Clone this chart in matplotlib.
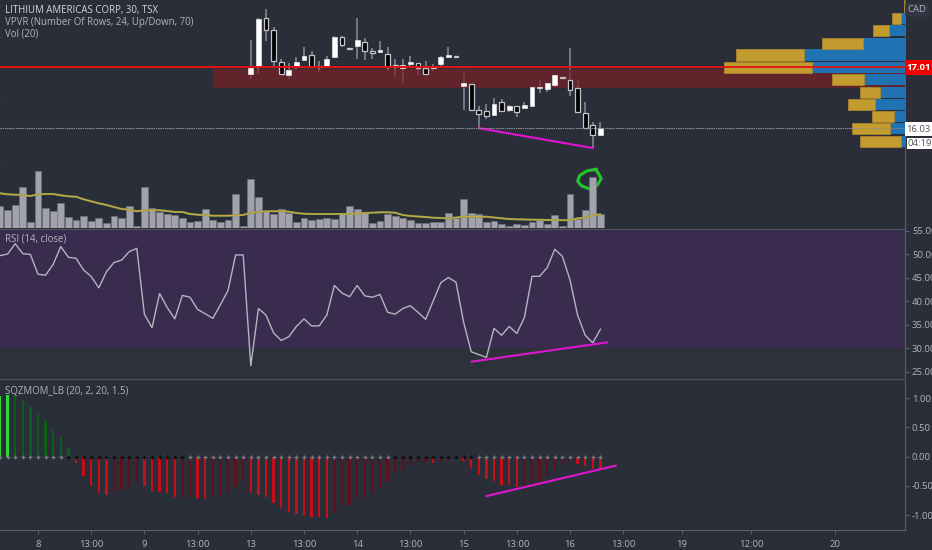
import matplotlib
matplotlib.use("Agg")
from matplotlib import pyplot as plt
from matplotlib.patches import Rectangle
import numpy as np

plt.rcParams['font.family'] = ['Open Sans', 'DejaVu Sans']

W, H = 932, 550
BG = '#2a2e39'
TXT = '#b2b5be'
AXL = '#5d606b'
MAGENTA = '#e015d0'

# bar index 0 is the "8" session tick, history starts 5 bars before it
bars = np.arange(-5, 75)

# candles, bar index 28 to 74
c_idx = np.arange(28, 75)
c_open = [16.90, 17.02, 17.81, 17.62, 17.10, 16.89, 17.02, 17.13, 17.21, 17.03, 17.02, 17.18, 17.50, 17.32, 17.36, 17.42,
          17.27, 17.26, 17.23, 17.05, 17.00, 17.07, 17.08, 17.00, 17.00, 17.07, 17.18, 17.19, 16.71, 16.74, 16.32, 16.31,
          16.24, 16.45, 16.32, 16.39, 16.36, 16.39, 16.68, 16.66, 16.73, 16.85, 16.81, 16.68, 16.27, 16.08, 15.92]
c_high = [17.45, 17.81, 17.95, 17.66, 17.15, 17.08, 17.18, 17.34, 17.27, 17.11, 17.19, 17.51, 17.51, 17.32, 17.81, 17.48,
          17.32, 17.44, 17.34, 17.15, 17.15, 17.19, 17.08, 17.11, 17.07, 17.19, 17.34, 17.19, 16.95, 16.74, 16.39, 16.42,
          16.52, 16.50, 16.40, 16.39, 16.45, 16.69, 16.81, 16.76, 16.90, 16.85, 17.32, 16.81, 16.45, 16.13, 16.13]
c_low = [16.82, 16.90, 17.44, 17.02, 16.89, 16.82, 16.98, 17.11, 17.02, 16.94, 17.02, 17.17, 17.34, 17.31, 17.15, 17.13,
         17.15, 17.26, 16.95, 16.86, 16.76, 17.02, 16.87, 16.90, 16.95, 17.02, 17.18, 17.18, 16.32, 16.32, 16.03, 16.18,
         16.23, 16.31, 16.29, 16.21, 16.36, 16.39, 16.60, 16.61, 16.69, 16.84, 16.55, 16.29, 16.03, 15.71, 15.90]
c_close = [17.00, 17.79, 17.62, 17.12, 16.90, 16.97, 17.10, 17.19, 17.02, 17.02, 17.15, 17.50, 17.37, 17.31, 17.45, 17.27,
           17.25, 17.29, 17.02, 17.03, 17.05, 17.10, 17.00, 16.90, 17.03, 17.18, 17.21, 17.18, 16.76, 16.32, 16.26, 16.23,
           16.42, 16.31, 16.39, 16.29, 16.40, 16.69, 16.69, 16.76, 16.89, 16.84, 16.65, 16.29, 16.03, 15.92, 16.03]

# volume in thousands
volume = [21.7, 17.7, 23.3, 40.7, 5.7, 56.7, 19.7, 16.7, 25.3, 11, 7.7, 12.3, 7, 10.3, 5, 11.7, 10.3, 21.7, 1.7, 40.7,
          19.7, 16, 14, 13, 10.3, 6.3, 7, 19, 7.7, 5.7, 7.7, 34, 2.3, 48.7, 31.3, 16.7, 14, 19, 15.3, 6.3, 9.7, 7.7, 8.7,
          10, 9.3, 14, 21.7, 19, 15.3, 4.7, 7, 14.3, 11.7, 9.7, 8.3, 5, 5, 6.3, 5.7, 15.3, 10.3, 29, 15, 14.3, 6, 7, 3.7,
          2.3, 4.3, 3, 6.3, 8.3, 4.3, 13, 1.7, 33.7, 9.3, 18.3, 51, 14.3]
vol_ma = [34.7, 33.7, 33.3, 33, 32, 33.7, 34, 34, 32.7, 31.7, 31.3, 28.7, 26.7, 24.7, 23, 21, 19, 18.3, 16.7, 17.7, 18,
          17.7, 17, 16, 16, 14, 13.3, 13, 12.3, 12.3, 12.3, 12.7, 13, 15.3, 16, 16.7, 16.7, 17, 16.3, 15, 14.3, 14, 14, 14,
          14, 14, 14, 14.3, 15, 15.3, 15.7, 15.7, 15.3, 13, 12, 11.5, 11, 10.3, 10, 9.7, 10.5, 11.3, 11.3, 11.3, 11.3,
          10.5, 9.7, 9, 8.7, 8.5, 8.3, 8.3, 8, 8, 7.8, 8, 9.7, 10.3, 12.7, 13.7]

rsi = [49.65, 50.0, 52.2, 50.07, 49.9, 45.7, 45.5, 47.8, 51.6, 49.3, 49.1, 46.6, 45.2, 42.8, 46.2, 48.2, 48.7, 50.5, 51.2,
       37.2, 34.3, 41.6, 38.6, 36.2, 41.2, 40.8, 38.2, 37.3, 36.3, 39.2, 42.2, 49.8, 49.8, 26.2, 38.4, 37, 33.2, 31.6,
       32.4, 34.6, 36.2, 34.7, 34.7, 37, 43.3, 41.7, 40.9, 43.3, 41.1, 40.8, 41.4, 37.6, 37.2, 38.4, 39, 37.6, 36.1, 40,
       43.9, 45, 44, 35.5, 29.2, 28.6, 28, 34.2, 32.7, 34.6, 33.1, 36.5, 45.25, 45.25, 47.1, 51, 49.5, 44.5, 37, 32.7,
       31.1, 34]

momentum = [1.03, 1.05, 1.03, 0.95, 0.84, 0.73, 0.61, 0.45, 0.33, 0.14, -0.11, -0.33, -0.50, -0.62, -0.66, -0.61, -0.58,
            -0.52, -0.44, -0.50, -0.59, -0.61, -0.63, -0.69, -0.69, -0.69, -0.71, -0.73, -0.70, -0.67, -0.61, -0.52,
            -0.42, -0.63, -0.66, -0.69, -0.79, -0.88, -0.94, -0.98, -1.01, -1.03, -1.04, -1.05, -0.97, -0.87, -0.83,
            -0.75, -0.69, -0.62, -0.53, -0.44, -0.28, -0.25, -0.17, -0.10, -0.10, -0.105, -0.09, -0.05, -0.03, -0.07,
            -0.20, -0.31, -0.39, -0.42, -0.48, -0.49, -0.52, -0.52, -0.47, -0.42, -0.34, -0.23, -0.145, -0.09, -0.12,
            -0.17, -0.21, -0.22]
# bars where the squeeze is on (black crosses)
sqz_on = list(range(4, 20)) + list(range(47, 58))

# volume profile rows, thousands
vp_low = [17.91, 17.71, 17.52, 17.31, 17.12, 16.92, 16.73, 16.52, 16.32, 16.13, 15.93, 15.73]
vp_up = [0, 4.3, 16.3, 42.3, 101.3, 92.7, 40.7, 25, 30.3, 11, 15.3, 4.3]
vp_down = [1, 8.3, 16, 40.7, 68, 88.7, 32.3, 20, 27, 22, 37.3, 40.7]

price_ticks = [15.0, 15.5, 16.5, 17.5, 18.0, 14.5]
rsi_ticks = [25, 30, 35, 40, 45, 50, 55]
mom_ticks = [-1, -0.5, 0, 0.5, 1]
time_pos = [0, 7, 14, 21, 28, 35, 42, 49, 56, 63, 70, 77, 84.7, 93.8, 104.9]
time_lab = ['8', '13:00', '9', '13:00', '13', '13:00', '14', '13:00', '15', '13:00', '16', '13:00', '19', '12:00', '20']

last_price = 16.03
level_price = 17.01
zone_top, zone_bottom = 16.99, 16.67
zone_start = -5 + 213 / 7.6

# drawings
price_trend = ([58, 73], [16.03, 15.71])
rsi_trend = ([57.07, 74.9], [27.1, 31.2])
mom_trend = ([59.03, 76], [-0.675, -0.157])
circle_x = [73.5, 72.2, 71.3, 71.0, 71.5, 72.6, 73.6, 74.1, 73.7, 73.4]
circle_y = [15.37, 15.34, 15.27, 15.18, 15.10, 15.05, 15.11, 15.22, 15.31, 15.355]


def panel(fig, top, bottom, ylim, facecolor=BG):
    ax = fig.add_axes([0, 1 - bottom / H, 905 / W, (bottom - top) / H], facecolor=facecolor)
    ax.set_xlim(-5, (905 - 38) / 7.6)
    ax.set_ylim(*ylim)
    for s in ax.spines.values():
        s.set_visible(False)
    ax.spines['right'].set_visible(True)
    ax.spines['right'].set_color(AXL)
    ax.yaxis.tick_right()
    ax.tick_params(axis='y', length=3, width=0.8, color=AXL, labelcolor=TXT, labelsize=6.8, pad=2)
    ax.tick_params(axis='x', bottom=False, labelbottom=False)
    return ax


fig = plt.figure(figsize=(W / 100, H / 100), dpi=100, facecolor=BG)

# price panel
ax = panel(fig, 0, 228, (14.42, 18.097))
ax.vlines(c_idx, c_low, c_high, color='#8b8e98', lw=1.1, zorder=2)
ax.add_patch(Rectangle((zone_start, zone_bottom), 120, zone_top - zone_bottom, color='#7a2026', alpha=0.7, lw=0, zorder=2.5))
up = np.array(c_close) >= np.array(c_open)
tops = np.maximum(c_open, c_close)
bots = np.minimum(c_open, c_close)
ax.bar(c_idx[up], (tops - bots)[up], bottom=bots[up], width=0.62, color='white', edgecolor='#d8d8dc', lw=0.6, zorder=3)
ax.bar(c_idx[~up], (tops - bots)[~up], bottom=bots[~up], width=0.62, color='black', edgecolor='#c4c5ca', lw=0.9, zorder=3)
ax.axhline(last_price, color='#8a8d96', lw=0.8, ls=(0, (1, 1)), zorder=6)
ax.axhline(level_price, color='#e01414', lw=1.3, zorder=7)
ax.plot(*price_trend, color=MAGENTA, lw=1.5, zorder=5)
ax.plot(circle_x, circle_y, color='#22c52a', lw=2.2, zorder=8, solid_joinstyle='round', solid_capstyle='round')
ax.set_yticks(price_ticks)
ax.set_yticklabels(['%.2f' % t for t in price_ticks])

# volume on its own scale, same panel
ax_vol = ax.twinx()
ax_vol.set_ylim(0, 228)
ax_vol.axis('off')
ax_vol.bar(bars, volume, width=0.9, color='#a2a3aa', edgecolor='#74767f', lw=0.4, zorder=3)
ax_vol.plot(bars, vol_ma, color='#6e9a52', lw=1.5, zorder=4)
ax_vol.plot(bars, vol_ma, color='#d0a63e', lw=0.9, zorder=5)

# volume profile, measured from the price scale to the left
ax_vp = ax.twiny()
ax_vp.set_xlim(905, 0)
ax_vp.axis('off')
ax_vp.barh(vp_low, vp_up, height=0.18, align='edge', color='#2172b2', lw=0, zorder=3)
ax_vp.barh(vp_low, vp_down, left=vp_up, height=0.18, align='edge', color='#c49b2e', edgecolor='#a8852f', lw=0.6, zorder=3)
ax_vp.set_zorder(ax_vol.get_zorder() + 1)
ax_vp.axhline(last_price, color='#8a8d96', lw=0.8, ls=(0, (1, 1)), zorder=6)
ax_vp.axhline(level_price, color='#e01414', lw=1.3, zorder=7)

fig.text(5 / W, 1 - 11 / H, 'LITHIUM AMERICAS CORP, 30, TSX', color='#d5d6da', fontsize=6.9, va='center')
fig.text(5 / W, 1 - 22.5 / H, 'VPVR (Number Of Rows, 24, Up/Down, 70)', color=TXT, fontsize=6.9, va='center')
fig.text(5 / W, 1 - 34 / H, 'Vol (20)', color=TXT, fontsize=6.9, va='center')

# rsi panel
ax_r = panel(fig, 229, 378, (23.62, 55.32), facecolor='#2c313a')
ax_r.axhspan(30, 70, color='#392c4f', lw=0)
ax_r.plot(bars, rsi, color='#b6b4bf', lw=1.0, zorder=3)
ax_r.plot(*rsi_trend, color=MAGENTA, lw=1.5, zorder=4)
ax_r.set_yticks(rsi_ticks)
ax_r.set_yticklabels(['%.2f' % t for t in rsi_ticks])
ax_r.text(5 / 905, 1 - 10 / 149, 'RSI (14, close)', transform=ax_r.transAxes, color=TXT, fontsize=6.9, va='center')

# squeeze momentum panel
ax_m = panel(fig, 380, 530, (-1.256, 1.308))
mom = np.array(momentum)
prev = np.r_[mom[0] - 1, mom[:-1]]
colors = []
for v, p in zip(mom, prev):
    if v > 0:
        colors.append('#2fd63c' if v > p else '#0b5e18')
    else:
        colors.append('#c40e18' if v < p else '#600f1b')
ax_m.bar(bars, mom, width=0.3, color=colors, lw=0, zorder=2)
on = np.isin(bars, sqz_on)
ax_m.scatter(bars[~on], np.zeros((~on).sum()), marker='+', s=11, color='#7b7d85', lw=0.9, zorder=3)
ax_m.scatter(bars[on], np.zeros(on.sum()), marker='+', s=11, color='#0b0b0e', lw=0.9, zorder=3)
ax_m.plot(*mom_trend, color=MAGENTA, lw=1.5, zorder=4)
ax_m.set_yticks(mom_ticks)
ax_m.set_yticklabels(['%.2f' % t for t in mom_ticks])
ax_m.spines['bottom'].set_visible(True)
ax_m.spines['bottom'].set_color(AXL)
ax_m.set_xticks(time_pos)
ax_m.set_xticklabels(time_lab)
ax_m.tick_params(axis='x', bottom=True, labelbottom=True, length=3, width=0.8, color=AXL, labelcolor=TXT, labelsize=6.8, pad=4)
ax_m.text(5 / 905, 1 - 11 / 150, 'SQZMOM_LB (20, 2, 20, 1.5)', transform=ax_m.transAxes, color=TXT, fontsize=6.9, va='center')

# panel separators
fig.add_artist(plt.Line2D([0, 905 / W], [1 - 228.5 / H] * 2, color='#4c505b', lw=1))
fig.add_artist(plt.Line2D([0, 905 / W], [1 - 379 / H] * 2, color='#4c505b', lw=1))

# price scale tags
def tag(y, h, x0, txt, fc, tc, weight='normal'):
    fig.add_artist(Rectangle((x0 / W, 1 - (y + h / 2) / H), (W - x0) / W, h / H, transform=fig.transFigure, color=fc, lw=0, zorder=10))
    fig.text((x0 + W) / 2 / W, 1 - y / H, txt, color=tc, fontsize=6.8, ha='center', va='center', weight=weight, zorder=11)


tag(67.5, 14, 905, '%.2f' % level_price, '#f20000', 'white', 'bold')
tag(129, 14, 905, '%.2f' % last_price, 'white', '#50535e')
tag(143, 11, 907, '04:19', 'white', '#50535e')
fig.text(917 / W, 1 - 10 / H, 'CAD', color=TXT, fontsize=6.8, ha='center', va='center', zorder=11,
         bbox=dict(boxstyle='round,pad=0.25', fc='#323642', ec='none'))

fig.savefig('out.png', dpi=100, facecolor=fig.get_facecolor())
